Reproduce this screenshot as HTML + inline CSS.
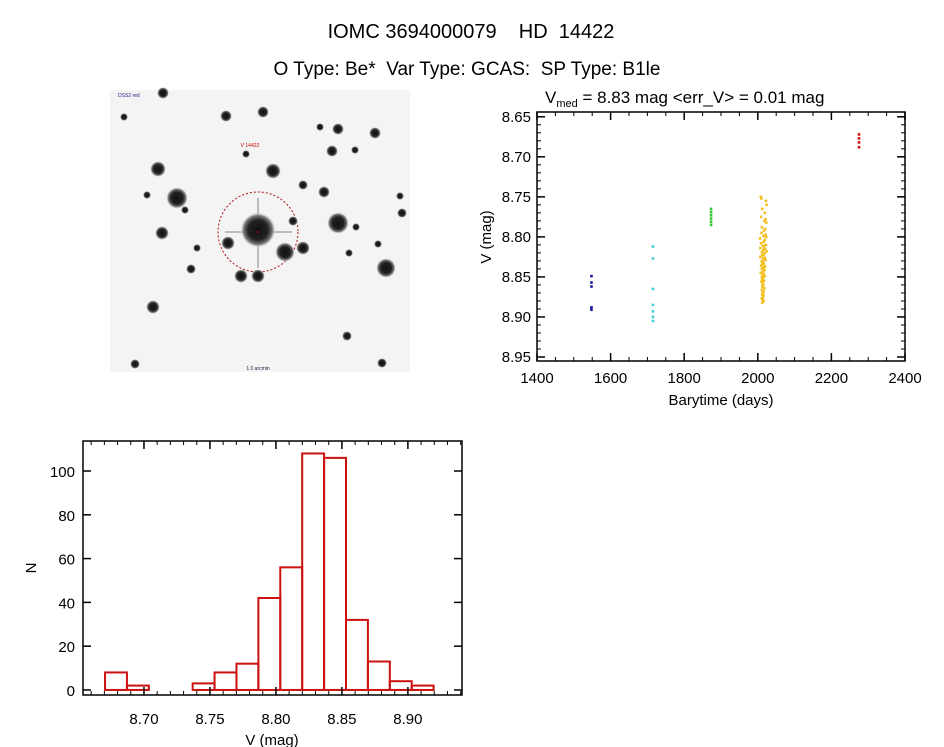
<!DOCTYPE html>
<html><head><meta charset="utf-8"><style>
body{margin:0;background:#fff;}
svg{display:block;font-family:"Liberation Sans","DejaVu Sans",sans-serif;}
</style></head><body>
<svg id="root" width="944" height="747" viewBox="0 0 944 747">
<text x="471" y="38" font-size="20" text-anchor="middle">IOMC 3694000079&#160;&#160;&#160;&#160;HD&#160;&#160;14422</text>
<text x="467" y="75" font-size="19" text-anchor="middle">O Type: Be*&#160;&#160;Var Type: GCAS:&#160;&#160;SP Type: B1le</text>
<g id="img">
<defs><radialGradient id="st"><stop offset="0" stop-color="#111"/><stop offset="0.55" stop-color="#222"/><stop offset="0.8" stop-color="#777"/><stop offset="1" stop-color="#f3f3f3" stop-opacity="0"/></radialGradient></defs>
<rect x="110" y="90" width="300" height="282" fill="#f4f4f4"/>
<line x1="225" y1="232" x2="292" y2="232" stroke="#bbb" stroke-width="2"/>
<line x1="258" y1="198" x2="258" y2="268" stroke="#bbb" stroke-width="2"/>
<circle cx="258" cy="232" r="40" fill="none" stroke="#b01010" stroke-width="1" stroke-dasharray="2,2"/>
<text x="250" y="147" font-size="5" fill="#c00" text-anchor="middle">V 14422</text>
<text x="118" y="97" font-size="5" fill="#228">DSS2 red</text>
<text x="258" y="370" font-size="5" fill="#224" text-anchor="middle">1.0 arcmin</text>
</g>
<g id="lc"></g>
<g id="hist"></g>
</svg>
<script>
const NS="http://www.w3.org/2000/svg";
function mk(p,t,a,txt){const e=document.createElementNS(NS,t);for(const k in a)e.setAttribute(k,a[k]);if(txt!==undefined)e.textContent=txt;p.appendChild(e);return e;}
const starX=[177,338,386,285,258,158,273,162,153,228,241,258,303,226,263,338,375,332,324,163,293,402,382,347,135,303,191,147,124,185,400,356,349,320,197,246,355,378];
const starY=[198,223,268,252,230,169,171,233,307,243,276,276,248,116,112,129,133,151,192,93,221,213,363,336,364,185,269,195,117,210,196,227,253,127,248,154,150,244];
const starR=[11,11,10,10,18,8,8,7,7,7,7,7,7,6,6,6,6,6,6,6,5,5,5,5,5,5,5,4,4,4,4,4,4,4,4,4,4,4];
const img=document.getElementById('img');
starX.forEach((x,i)=>{const c=mk(img,'circle',{cx:x,cy:starY[i],r:starR[i],fill:'url(#st)'});

});
mk(img,'circle',{cx:258,cy:232,r:1,fill:'#c00'});

const blueT=[1548,1548,1548,1548,1548];
const blueV=[8.849,8.857,8.862,8.888,8.891];
const cyanT=[1715,1715,1715,1715,1715,1715,1715];
const cyanV=[8.812,8.827,8.865,8.885,8.893,8.900,8.905];
const greenT=[1873,1873,1873,1873,1873,1873];
const greenV=[8.765,8.769,8.773,8.777,8.781,8.785];
const yellowT=[2008,2010,2022,2024,2012,2019,2009,2021,2018,2023,2011,2020,2017,2010,2021,2015,2023,2006,2019,2016,2009,2022,2014,2017,2007,2020,2015,2024,2011,2018,2016,2012,2007,2019,2015,2021,2011,2014,2012,2016,2009,2020,2015,2011,2018,2017,2012,2008,2016,2013,2019,2011,2014,2012,2017,2010,2013,2015,2012,2018,2011,2016,2013,2012,2015,2014,2011,2013,2016,2012];
const yellowV=[8.750,8.752,8.755,8.760,8.765,8.770,8.775,8.778,8.780,8.782,8.788,8.790,8.792,8.795,8.797,8.799,8.800,8.802,8.804,8.806,8.808,8.810,8.811,8.812,8.814,8.815,8.816,8.818,8.819,8.820,8.822,8.823,8.825,8.826,8.827,8.829,8.830,8.831,8.833,8.834,8.836,8.837,8.838,8.840,8.841,8.842,8.844,8.845,8.846,8.848,8.849,8.850,8.852,8.853,8.855,8.856,8.858,8.860,8.862,8.864,8.866,8.868,8.870,8.872,8.873,8.875,8.877,8.878,8.880,8.882];
const redT=[2275,2275,2275,2275];
const redV=[8.672,8.677,8.682,8.688];
const lcXTicks=[1400,1600,1800,2000,2200,2400];
const lcYTicks=[8.65,8.70,8.75,8.80,8.85,8.90,8.95];
const LX0=537,LX1=905,LY0=112,LY1=361;
const lx=t=>LX0+(t-1400)/1000*(LX1-LX0);
const ly=v=>LY0+(v-8.644)/(8.955-8.644)*(LY1-LY0);
const lc=document.getElementById('lc');
const lcAxes=mk(lc,'rect',{x:LX0,y:LY0,width:LX1-LX0,height:LY1-LY0,fill:'none',stroke:'#000','stroke-width':1.5});


lcXTicks.forEach(t=>{const x=lx(t);
 mk(lc,'line',{x1:x,y1:LY1,x2:x,y2:LY1-8,stroke:'#000','stroke-width':1.5});
 mk(lc,'line',{x1:x,y1:LY0,x2:x,y2:LY0+8,stroke:'#000','stroke-width':1.5});
 const tl=mk(lc,'text',{x:x,y:LY1+22,'font-size':15,'text-anchor':'middle'},String(t));
 
 });
for(let t=1400;t<=2400;t+=50){const x=lx(t);mk(lc,'line',{x1:x,y1:LY1,x2:x,y2:LY1-4,stroke:'#000'});mk(lc,'line',{x1:x,y1:LY0,x2:x,y2:LY0+4,stroke:'#000'});}
lcYTicks.forEach(v=>{const y=ly(v);
 mk(lc,'line',{x1:LX0,y1:y,x2:LX0+8,y2:y,stroke:'#000','stroke-width':1.5});
 mk(lc,'line',{x1:LX1,y1:y,x2:LX1-8,y2:y,stroke:'#000','stroke-width':1.5});
 const tl=mk(lc,'text',{x:LX0-6,y:y+5,'font-size':15,'text-anchor':'end'},v.toFixed(2));
 
 });
for(let v=8.65;v<8.955;v+=0.01){const y=ly(v);mk(lc,'line',{x1:LX0,y1:y,x2:LX0+4,y2:y,stroke:'#000'});mk(lc,'line',{x1:LX1,y1:y,x2:LX1-4,y2:y,stroke:'#000'});}
const series=[[blueT,blueV,'#1a1a9a','blue-series'],[cyanT,cyanV,'#40d0d8','cyan-series'],[greenT,greenV,'#30c830','green-series'],[yellowT,yellowV,'#f2c020','yellow-series'],[redT,redV,'#d01010','red-series']];
series.forEach(s=>{const g=mk(lc,'g',{});
 
 
 s[0].forEach((t,i)=>{mk(g,'rect',{x:lx(t)-1.3,y:ly(s[1][i])-1.3,width:2.6,height:2.6,fill:s[2]});});});
const lt=mk(lc,'text',{x:545,y:103,'font-size':17},'');
lt.innerHTML='V<tspan font-size="11" dy="4">med</tspan><tspan dy="-4"> = 8.83 mag &lt;err_V&gt; = 0.01 mag</tspan>';


const lxl=mk(lc,'text',{x:721,y:405,'font-size':15,'text-anchor':'middle'},'Barytime (days)');


const lyl=mk(lc,'text',{x:0,y:0,'font-size':15,'text-anchor':'middle',transform:'translate(491,237) rotate(-90)'},'V (mag)');



const binStart=8.6705, binWidth=0.0166;
const histCounts=[8,2,0,0,3,8,12,42,56,108,106,32,13,4,2];
const histXTicks=[8.70,8.75,8.80,8.85,8.90];
const histYTicks=[0,20,40,60,80,100];
const HX0=83,HX1=462,HY0=441,HY1=695;
const hx=v=>HX0+(v-8.6538)/(8.941-8.6538)*(HX1-HX0);
const hy=n=>HY1-(n+2.3)/(113.7+2.3)*(HY1-HY0);
const hist=document.getElementById('hist');
const ha=mk(hist,'rect',{x:HX0,y:HY0,width:HX1-HX0,height:HY1-HY0,fill:'none',stroke:'#000','stroke-width':1.5});


histCounts.forEach((n,i)=>{const x0=hx(binStart+i*binWidth),x1=hx(binStart+(i+1)*binWidth);
 const b=mk(hist,'rect',{x:x0,y:hy(n),width:x1-x0,height:hy(0)-hy(n),fill:'none',stroke:'#cc1111','stroke-width':2});
 
 });
histXTicks.forEach(v=>{const x=hx(v);
 mk(hist,'line',{x1:x,y1:HY1,x2:x,y2:HY1-8,stroke:'#000','stroke-width':1.5});
 mk(hist,'line',{x1:x,y1:HY0,x2:x,y2:HY0+8,stroke:'#000','stroke-width':1.5});
 const tl=mk(hist,'text',{x:x,y:HY1+29,'font-size':15,'text-anchor':'middle'},v.toFixed(2));
 
 });
for(let v=8.66;v<8.941;v+=0.01){const x=hx(v);mk(hist,'line',{x1:x,y1:HY1,x2:x,y2:HY1-4,stroke:'#000'});mk(hist,'line',{x1:x,y1:HY0,x2:x,y2:HY0+4,stroke:'#000'});}
histYTicks.forEach(n=>{const y=hy(n);
 mk(hist,'line',{x1:HX0,y1:y,x2:HX0+8,y2:y,stroke:'#000','stroke-width':1.5});
 mk(hist,'line',{x1:HX1,y1:y,x2:HX1-8,y2:y,stroke:'#000','stroke-width':1.5});
 const tl=mk(hist,'text',{x:HX0-8,y:y+6,'font-size':15,'text-anchor':'end'},String(n));
 
 });
const hxl=mk(hist,'text',{x:272,y:745,'font-size':15,'text-anchor':'middle'},'V (mag)');


const hyl=mk(hist,'text',{x:0,y:0,'font-size':15,'text-anchor':'middle',transform:'translate(36,568) rotate(-90)'},'N');


</script>
</body></html>
